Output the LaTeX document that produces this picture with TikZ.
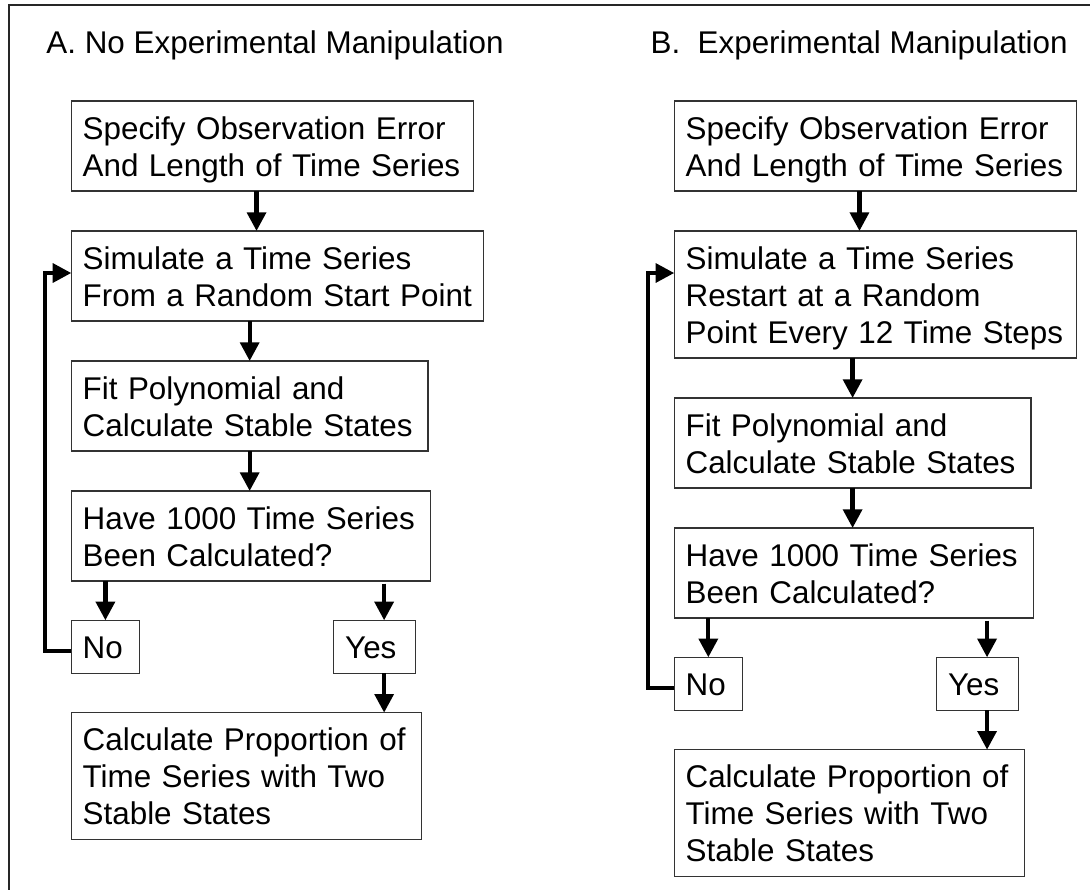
\documentclass[tikz,border=0pt]{standalone}
\usepackage{fontspec}
\setmainfont{Liberation Sans}
\usetikzlibrary{arrows.meta, positioning}
\newcommand{\boxstrut}{\rule[-5.25pt]{0pt}{27.75pt}}

\begin{document}
\begin{tikzpicture}[
    font=\fontsize{23.55pt}{27.75pt}\selectfont,
    box/.style={draw=black!80, line width=0.9pt, align=left, anchor=north west,
        inner xsep=8.5pt, inner ysep=6pt, outer sep=0pt,
        execute at begin node=\boxstrut, execute at end node=\boxstrut},
    flow/.style={-{Triangle[length=14pt, width=14pt]}, line width=3.2pt},
    frame/.style={line width=1.6pt, black!85},
]
\useasboundingbox (0,0) rectangle (817.5pt,-667.5pt);
\draw[frame] (817.5pt,-3.75pt) -- (7pt,-3.75pt) -- (7pt,-667.5pt);

% panel A
\node[anchor=base west] (titleA) at (31.3pt,-39.75pt) {A. No Experimental Manipulation};
\node[box, text width=284.6pt] (specA) at (53.5pt,-75.75pt)
    {Specify Observation Error\\And Length of Time Series};
\node[box, below=30pt of specA.south west, anchor=north west, text width=292.4pt] (simA)
    {Simulate a Time Series\\From a Random Start Point};
\node[box, below=30pt of simA.south west, anchor=north west, text width=250.5pt] (fitA)
    {Fit Polynomial and\\Calculate Stable States};
\node[box, below=30pt of fitA.south west, anchor=north west, text width=252.5pt] (haveA)
    {Have 1000 Time Series\\Been Calculated?};
\node[box, below=29.5pt of haveA.south west, anchor=north west, text width=34.1pt] (noA) {No};
\node[box, below right=29.5pt and 196.9pt of haveA.south west, anchor=north west,
      text width=44.4pt] (yesA) {Yes};
\node[box, below=29.5pt of noA.south west, anchor=north west, text width=245.7pt] (calcA)
    {Calculate Proportion of\\Time Series with Two\\Stable States};

% panel B
\node[anchor=base west] (titleB) at (484.4pt,-39.75pt) {B.\ \ Experimental Manipulation};
\node[box, text width=284.9pt] (specB) at (505.7pt,-75.75pt)
    {Specify Observation Error\\And Length of Time Series};
\node[box, below=30pt of specB.south west, anchor=north west, text width=284.9pt] (simB)
    {Simulate a Time Series\\Restart at a Random\\Point Every 12 Time Steps};
\node[box, below=30pt of simB.south west, anchor=north west, text width=250.5pt] (fitB)
    {Fit Polynomial and\\Calculate Stable States};
\node[box, below=30pt of fitB.south west, anchor=north west, text width=252.5pt] (haveB)
    {Have 1000 Time Series\\Been Calculated?};
\node[box, below=29.5pt of haveB.south west, anchor=north west, text width=34.1pt] (noB) {No};
\node[box, below right=29.5pt and 196.9pt of haveB.south west, anchor=north west,
      text width=44.4pt] (yesB) {Yes};
\node[box, below=29.5pt of noB.south west, anchor=north west, text width=245.7pt] (calcB)
    {Calculate Proportion of\\Time Series with Two\\Stable States};

\foreach \p in {A,B} {
    \coordinate (yes\p x) at ([xshift=7pt]yes\p.north);
    \draw[flow] ([xshift=138.9pt]spec\p.south west) -- ([xshift=138.9pt]sim\p.north west);
    \draw[flow] (sim\p.south -| fit\p.north) -- (fit\p.north);
    \draw[flow] (fit\p.south) -- (fit\p.south |- have\p.north);
    \draw[flow] (have\p.south -| no\p.north) -- (no\p.north);
    \draw[flow, shorten <=2pt] (have\p.south -| yes\p x) -- (yes\p x);
    \draw[flow] (yes\p.south -| yes\p x) -- (calc\p.north -| yes\p x);
    % back to the simulation step
    \draw[flow] ([yshift=-3pt]no\p.west) -- ++(-19.7pt,0)
        |- ([yshift=-31.5pt]sim\p.north west);
}

\end{tikzpicture}
\end{document}
